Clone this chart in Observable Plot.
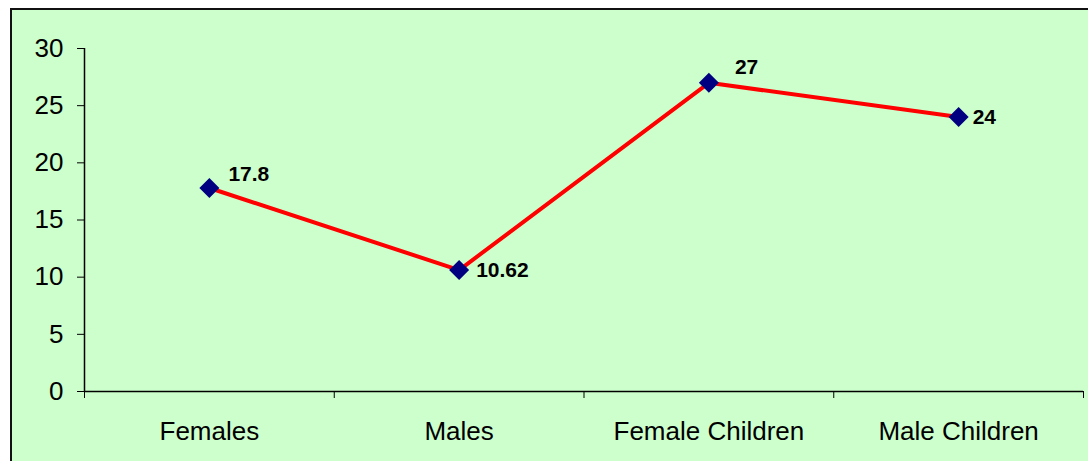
<!DOCTYPE html>
<html>
<head>
<meta charset="utf-8">
<script src="https://cdn.jsdelivr.net/npm/d3@7"></script>
<script src="https://cdn.jsdelivr.net/npm/@observablehq/plot@0.6"></script>
<style>
  html, body { margin: 0; padding: 0; background: #ffffff; }
  #wrap { position: relative; width: 1088px; height: 461px; overflow: hidden; }
  #bg { position: absolute; left: 10px; top: 8px; width: 1100px; height: 480px; background: #CCFFCC; border: 2px solid #111; }
  #chart { position: absolute; left: 0; top: 0; }
</style>
</head>
<body>
<div id="wrap"><div id="bg"></div><div id="chart"></div></div>
<script>
const categories = ["Females", "Males", "Female Children", "Male Children"];
const values = [17.8, 10.62, 27, 24];
const labels = ["17.8", "10.62", "27", "24"];
const yTicks = [0, 5, 10, 15, 20, 25, 30];

const data = categories.map((c, i) => ({ i, pos: i + 0.5, category: c, value: values[i], label: labels[i] }));
const labelOffsets = [[19, -14], [17, 0], [26, -16], [14, 0]];

const font = "'Liberation Sans', Arial, sans-serif";

const plot = Plot.plot({
  width: 1088,
  height: 461,
  marginLeft: 84,
  marginRight: 5,
  marginTop: 48,
  marginBottom: 70,
  style: { background: "transparent", fontFamily: font, color: "#000" },
  x: { type: "linear", domain: [0, categories.length] },
  y: { domain: [0, 30] },
  marks: [
    Plot.axisY({ ticks: yTicks, tickSize: 7, tickPadding: 14, fontSize: 26, label: null, stroke: "#000" }),
    Plot.axisX({ ticks: d3.range(categories.length + 1), tickSize: 7, tickFormat: () => "", label: null, stroke: "#000" }),
    Plot.axisX({ ticks: data.map(d => d.pos), tickSize: 0, tickPadding: 30, fontSize: 26, tickFormat: (t) => categories[Math.floor(t)], label: null }),
    Plot.ruleX([0], { stroke: "#000", strokeWidth: 1.5 }),
    Plot.ruleY([0], { stroke: "#000", strokeWidth: 1.5 }),
    Plot.line(data, { x: "pos", y: "value", stroke: "#FF0000", strokeWidth: 4 }),
    Plot.dot(data, { x: "pos", y: "value", symbol: "diamond2", r: 9, fill: "#000080", stroke: "none" }),
    ...data.map((d, k) => Plot.text([d], {
      x: "pos", y: "value", text: "label",
      dx: labelOffsets[k][0], dy: labelOffsets[k][1],
      textAnchor: "start", fontWeight: "bold", fontSize: 21, fill: "#000"
    }))
  ]
});
document.getElementById("chart").appendChild(plot);
</script>
</body>
</html>
